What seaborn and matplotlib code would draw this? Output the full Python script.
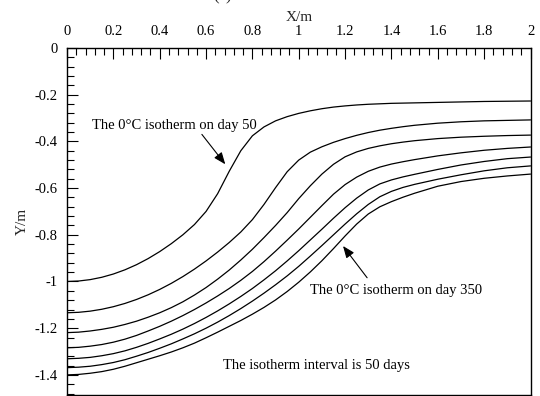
import matplotlib
matplotlib.use("Agg")
import matplotlib.pyplot as plt
from matplotlib.ticker import MultipleLocator, FuncFormatter
import pandas as pd
import seaborn as sns

# Horizontal distance from the embankment centre (m)
x_m = [0.00, 0.05, 0.10, 0.15, 0.20, 0.25, 0.30, 0.35, 0.40, 0.45,
       0.50, 0.55, 0.60, 0.65, 0.70, 0.75, 0.80, 0.85, 0.90, 0.95,
       1.00, 1.05, 1.10, 1.15, 1.20, 1.25, 1.30, 1.35, 1.40, 1.45,
       1.50, 1.60, 1.70, 1.80, 1.90, 2.00]

# Depth of the 0 degC isotherm (m) on successive days
depth_day50 = [-1.000, -0.998, -0.992, -0.982, -0.968, -0.950, -0.928, -0.902, -0.872, -0.838,
               -0.800, -0.756, -0.700, -0.624, -0.528, -0.440, -0.376, -0.338, -0.312, -0.294,
               -0.280, -0.269, -0.260, -0.253, -0.248, -0.244, -0.241, -0.239, -0.237, -0.236,
               -0.235, -0.233, -0.231, -0.229, -0.228, -0.227]
depth_day100 = [-1.134, -1.132, -1.127, -1.119, -1.108, -1.094, -1.077, -1.057, -1.034, -1.008,
                -0.979, -0.947, -0.912, -0.874, -0.833, -0.788, -0.735, -0.670, -0.598, -0.530,
                -0.480, -0.446, -0.423, -0.404, -0.388, -0.374, -0.362, -0.352, -0.344, -0.337,
                -0.331, -0.322, -0.316, -0.312, -0.310, -0.308]
depth_day150 = [-1.219, -1.217, -1.212, -1.205, -1.196, -1.184, -1.170, -1.153, -1.134, -1.112,
                -1.087, -1.058, -1.026, -0.990, -0.951, -0.908, -0.862, -0.812, -0.760, -0.705,
                -0.645, -0.590, -0.540, -0.498, -0.466, -0.445, -0.430, -0.419, -0.410, -0.403,
                -0.397, -0.388, -0.382, -0.378, -0.375, -0.373]
depth_day200 = [-1.284, -1.282, -1.277, -1.270, -1.260, -1.247, -1.231, -1.212, -1.192, -1.170,
                -1.146, -1.120, -1.092, -1.062, -1.030, -0.995, -0.957, -0.915, -0.870, -0.823,
                -0.775, -0.725, -0.675, -0.626, -0.585, -0.553, -0.528, -0.510, -0.497, -0.487,
                -0.478, -0.462, -0.449, -0.438, -0.430, -0.424]
depth_day250 = [-1.331, -1.329, -1.325, -1.318, -1.309, -1.297, -1.282, -1.265, -1.246, -1.226,
                -1.204, -1.180, -1.154, -1.126, -1.096, -1.064, -1.030, -0.993, -0.954, -0.912,
                -0.868, -0.822, -0.776, -0.729, -0.684, -0.643, -0.608, -0.582, -0.565, -0.552,
                -0.541, -0.520, -0.501, -0.486, -0.474, -0.467]
depth_day300 = [-1.369, -1.367, -1.363, -1.356, -1.347, -1.335, -1.320, -1.304, -1.286, -1.267,
                -1.246, -1.224, -1.200, -1.174, -1.146, -1.116, -1.084, -1.050, -1.014, -0.976,
                -0.935, -0.891, -0.846, -0.800, -0.754, -0.710, -0.670, -0.637, -0.614, -0.597,
                -0.584, -0.562, -0.543, -0.526, -0.513, -0.505]
depth_day350 = [-1.400, -1.398, -1.393, -1.386, -1.376, -1.363, -1.348, -1.333, -1.318, -1.302,
                -1.284, -1.264, -1.241, -1.217, -1.192, -1.167, -1.140, -1.111, -1.079, -1.043,
                -1.003, -0.959, -0.911, -0.859, -0.805, -0.754, -0.711, -0.680, -0.658, -0.639,
                -0.622, -0.592, -0.572, -0.558, -0.548, -0.540]

days = [50, 100, 150, 200, 250, 300, 350]
depths = [depth_day50, depth_day100, depth_day150, depth_day200,
          depth_day250, depth_day300, depth_day350]

frames = [pd.DataFrame({"x": x_m, "y": d, "day": day}) for day, d in zip(days, depths)]
df = pd.concat(frames, ignore_index=True)

sns.set_style("white")
plt.rcParams["font.family"] = ["Liberation Serif", "DejaVu Serif"]
plt.rcParams["axes.unicode_minus"] = False

W, H = 540, 396
fig = plt.figure(figsize=(W / 100, H / 100), dpi=100)
ax = fig.add_axes([67 / W, 1.5 / H, 463.5 / W, 346.5 / H])

sns.lineplot(data=df, x="x", y="y", hue="day", units="day", estimator=None,
             palette=["black"] * len(days), legend=False, linewidth=0.9,
             sort=False, ax=ax)

ax.set_xlim(0, 2)
ax.set_ylim(-1.484, 0)

ax.xaxis.set_major_locator(MultipleLocator(0.2))
ax.xaxis.set_minor_locator(MultipleLocator(0.04))
ax.yaxis.set_major_locator(MultipleLocator(0.2))
ax.yaxis.set_minor_locator(MultipleLocator(0.04))
fmt = FuncFormatter(lambda v, pos: "{:g}".format(round(v, 3)) if abs(v) > 1e-9 else "0")
ax.xaxis.set_major_formatter(fmt)
ax.yaxis.set_major_formatter(fmt)

ax.xaxis.tick_top()
ax.xaxis.set_label_position("top")
ax.tick_params(which="both", direction="in", top=True, bottom=False,
               left=True, right=False, labeltop=True, labelbottom=False,
               colors="black", width=0.8, labelsize=10.5, pad=7)
ax.tick_params(which="major", length=8)
ax.tick_params(which="minor", length=5)

for sp in ax.spines.values():
    sp.set_color("black")
    sp.set_linewidth(1.0)
    sp.set_visible(True)

ax.set_xlabel("X/m", fontsize=11, labelpad=3)
ax.set_ylabel("Y/m", fontsize=11, labelpad=4)

txt = dict(fontsize=10.5, color="black")
head = dict(arrowstyle="-|>,head_length=0.55,head_width=0.22", color="black",
            lw=0.8, mutation_scale=13, shrinkA=0, shrinkB=0)

ax.text(0.819, -0.345, "The 0\u00b0C isotherm on day 50", ha="right", va="baseline", **txt)
ax.annotate("", xy=(0.683, -0.498), xytext=(0.582, -0.370), arrowprops=head)

ax.text(1.05, -1.052, "The 0\u00b0C isotherm on day 350", ha="left", va="baseline", **txt)
ax.annotate("", xy=(1.191, -0.848), xytext=(1.295, -0.984), arrowprops=head)

ax.text(0.675, -1.376, "The isotherm interval is 50 days", ha="left", va="baseline", **txt)

fig.text(223 / W, 1 - 0.5 / H, "(a)", ha="center", va="baseline", fontsize=12)

fig.savefig("out.png", dpi=100)
